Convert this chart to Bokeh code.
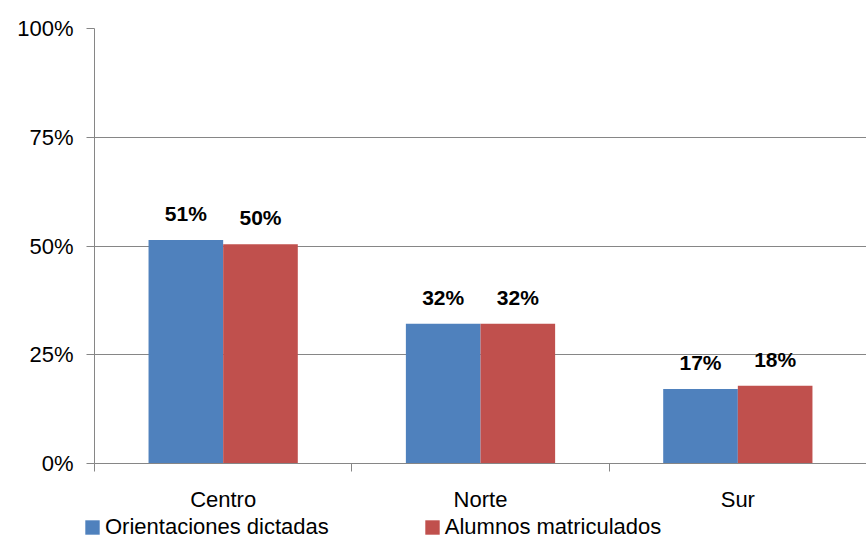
from bokeh.plotting import figure
from bokeh.layouts import column
from bokeh.models import (ColumnDataSource, Range1d, FixedTicker, NumeralTickFormatter,
                          Legend, LegendItem)
from bokeh.core.properties import value
from bokeh.embed import file_html
from bokeh.resources import INLINE

categories = ["Centro", "Norte", "Sur"]
orientaciones = [0.514, 0.321, 0.171]
alumnos = [0.504, 0.321, 0.179]
series_names = ["Orientaciones dictadas", "Alumnos matriculados"]
colors = ["#4F81BD", "#C0504D"]
y_ticks = [0, 0.25, 0.5, 0.75, 1.0]

FONT = "Liberation Sans"
BAR_W = 0.29

p = figure(width=866, height=514, output_backend="svg", toolbar_location=None,
           x_range=Range1d(0, len(categories)), y_range=Range1d(0, 1),
           min_border_left=94, min_border_right=0, min_border_top=28, min_border_bottom=50)
p.outline_line_color = None
p.background_fill_color = "white"
p.border_fill_color = "white"

series = [orientaciones, alumnos]
centers = [k + 0.5 for k in range(len(categories))]
for i, (vals, col) in enumerate(zip(series, colors)):
    off = (i - 0.5) * BAR_W
    xs = [c + off for c in centers]
    src = ColumnDataSource(dict(x=xs, top=vals, lab=[f"{v:.0%}" for v in vals]))
    p.vbar(x="x", top="top", width=BAR_W, source=src, fill_color=col, line_color=None)
    p.text(x="x", y="top", text="lab", source=src, text_align="center", text_baseline="bottom",
           y_offset=-15, text_font=value(FONT), text_font_style="bold", text_font_size="21px",
           text_color="black")

# axes
p.yaxis.ticker = FixedTicker(ticks=y_ticks)
p.yaxis.formatter = NumeralTickFormatter(format="0%")
p.yaxis.major_tick_out = 8
p.yaxis.major_tick_in = 0
p.yaxis.minor_tick_line_color = None
p.yaxis.axis_line_color = "#868686"
p.yaxis.major_tick_line_color = "#868686"
p.yaxis.major_label_text_font = FONT
p.yaxis.major_label_text_font_size = "22px"
p.yaxis.major_label_text_color = "black"
p.yaxis.major_label_standoff = 13

bounds = list(range(len(categories) + 1))
p.xaxis.ticker = FixedTicker(ticks=centers, minor_ticks=bounds)
p.xaxis.major_label_overrides = {c: name for c, name in zip(centers, categories)}
p.xaxis.major_tick_out = 0
p.xaxis.major_tick_in = 0
p.xaxis.minor_tick_out = 8
p.xaxis.minor_tick_in = 0
p.xaxis.minor_tick_line_color = "#868686"
p.xaxis.axis_line_color = "#868686"
p.xaxis.major_label_text_font = FONT
p.xaxis.major_label_text_font_size = "22px"
p.xaxis.major_label_text_color = "black"
p.xaxis.major_label_standoff = 15

p.xgrid.grid_line_color = None
p.ygrid.ticker = FixedTicker(ticks=y_ticks)
p.ygrid.grid_line_color = "#868686"

# legend strip below the chart (series drawn out of view, only used for swatches)
lg = figure(width=866, height=26, output_backend="svg", toolbar_location=None,
            x_range=Range1d(0, len(categories)), y_range=Range1d(2, 3),
            min_border_left=94, min_border_right=0, min_border_top=0, min_border_bottom=0,
            x_axis_location=None, y_axis_location=None)
lg.outline_line_color = None
lg.grid.grid_line_color = None
lg.border_fill_color = "white"

loc_x = 2
if "frame_align" in lg.properties():
    p.frame_align = False
    lg.frame_align = False
    lg.min_border_left = 0
    loc_x = 83

swatches = [lg.quad(left=centers, right=centers, bottom=vals, top=vals, fill_color=c, line_color=None)
            for vals, c in zip(series, colors)]
legend = Legend(items=[LegendItem(label=n, renderers=[r]) for n, r in zip(series_names, swatches)],
                orientation="horizontal", location=(loc_x, 0),
                glyph_width=18, glyph_height=18, label_standoff=4, spacing=94,
                padding=0, margin=0, border_line_color=None, background_fill_alpha=0,
                label_text_font=FONT, label_text_font_size="22px", label_text_color="black",
                label_height=18)
lg.add_layout(legend, "center")

layout = column(p, lg, spacing=0)
open("out.html", "w").write(file_html(layout, INLINE))
